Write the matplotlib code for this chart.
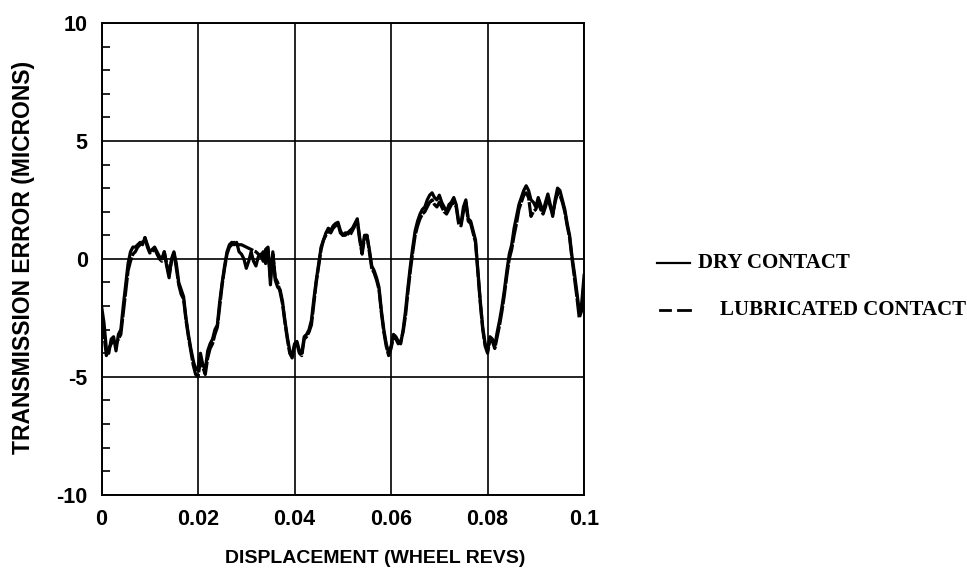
import matplotlib
matplotlib.use("Agg")
import matplotlib.pyplot as plt
from matplotlib.lines import Line2D
from matplotlib.ticker import MultipleLocator

# Displacement in wheel revolutions
displacement = [
    0.0000, 0.0005, 0.0010, 0.0015, 0.0020, 0.0025, 0.0030, 0.0035, 0.0040, 0.0045,
    0.0050, 0.0055, 0.0060, 0.0065, 0.0070, 0.0075, 0.0080, 0.0085, 0.0090, 0.0095,
    0.0100, 0.0105, 0.0110, 0.0115, 0.0120, 0.0125, 0.0130, 0.0135, 0.0140, 0.0145,
    0.0150, 0.0155, 0.0160, 0.0165, 0.0170, 0.0175, 0.0180, 0.0185, 0.0190, 0.0195,
    0.0200, 0.0205, 0.0210, 0.0215, 0.0220, 0.0225, 0.0230, 0.0235, 0.0240, 0.0245,
    0.0250, 0.0255, 0.0260, 0.0265, 0.0270, 0.0275, 0.0280, 0.0285, 0.0290, 0.0295,
    0.0300, 0.0305, 0.0310, 0.0315, 0.0320, 0.0325, 0.0330, 0.0335, 0.0340, 0.0345,
    0.0350, 0.0355, 0.0360, 0.0365, 0.0370, 0.0375, 0.0380, 0.0385, 0.0390, 0.0395,
    0.0400, 0.0405, 0.0410, 0.0415, 0.0420, 0.0425, 0.0430, 0.0435, 0.0440, 0.0445,
    0.0450, 0.0455, 0.0460, 0.0465, 0.0470, 0.0475, 0.0480, 0.0485, 0.0490, 0.0495,
    0.0500, 0.0505, 0.0510, 0.0515, 0.0520, 0.0525, 0.0530, 0.0535, 0.0540, 0.0545,
    0.0550, 0.0555, 0.0560, 0.0565, 0.0570, 0.0575, 0.0580, 0.0585, 0.0590, 0.0595,
    0.0600, 0.0605, 0.0610, 0.0615, 0.0620, 0.0625, 0.0630, 0.0635, 0.0640, 0.0645,
    0.0650, 0.0655, 0.0660, 0.0665, 0.0670, 0.0675, 0.0680, 0.0685, 0.0690, 0.0695,
    0.0700, 0.0705, 0.0710, 0.0715, 0.0720, 0.0725, 0.0730, 0.0735, 0.0740, 0.0745,
    0.0750, 0.0755, 0.0760, 0.0765, 0.0770, 0.0775, 0.0780, 0.0785, 0.0790, 0.0795,
    0.0800, 0.0805, 0.0810, 0.0815, 0.0820, 0.0825, 0.0830, 0.0835, 0.0840, 0.0845,
    0.0850, 0.0855, 0.0860, 0.0865, 0.0870, 0.0875, 0.0880, 0.0885, 0.0890, 0.0895,
    0.0900, 0.0905, 0.0910, 0.0915, 0.0920, 0.0925, 0.0930, 0.0935, 0.0940, 0.0945,
    0.0950, 0.0955, 0.0960, 0.0965, 0.0970, 0.0975, 0.0980, 0.0985, 0.0990, 0.0995,
    0.1000,
]

# Transmission error (microns), dry contact
dry_contact = [
    -2.0, -2.7, -3.8, -4.0, -3.4, -3.3, -3.9, -3.2, -3.0, -2.0,
    -1.1, -0.2, 0.3, 0.5, 0.5, 0.6, 0.7, 0.6, 0.9, 0.6,
    0.3, 0.4, 0.5, 0.3, 0.1, 0.0, 0.3, -0.3, -0.8, 0.0,
    0.3, -0.2, -1.0, -1.3, -1.6, -2.5, -3.2, -3.8, -4.3, -4.7,
    -4.6, -4.0, -4.5, -4.7, -3.9, -3.6, -3.4, -3.0, -2.8, -1.8,
    -1.0, -0.3, 0.3, 0.6, 0.7, 0.6, 0.7, 0.3, 0.2, 0.0,
    -0.4, -0.1, 0.3, -0.1, -0.3, 0.1, 0.2, -0.1, 0.4, 0.5,
    -1.1, 0.3, -0.9, -1.2, -1.3, -1.8, -2.6, -3.3, -3.9, -4.1,
    -3.6, -3.5, -3.9, -4.0, -3.3, -3.2, -3.0, -2.6, -1.7, -0.9,
    -0.2, 0.5, 0.8, 1.1, 1.3, 1.2, 1.4, 1.5, 1.55, 1.2,
    1.0, 1.1, 1.1, 1.2, 1.3, 1.5, 1.7, 0.9, 0.3, 1.0,
    1.0, 0.4, -0.3, -0.5, -0.8, -1.2, -2.2, -3.0, -3.6, -4.0,
    -3.7, -3.2, -3.3, -3.5, -3.6, -3.0, -2.2, -1.2, -0.3, 0.5,
    1.2, 1.6, 1.9, 2.1, 2.2, 2.5, 2.7, 2.8, 2.6, 2.5,
    2.7, 2.4, 2.2, 2.0, 2.3, 2.4, 2.6, 2.3, 1.6, 1.5,
    2.2, 2.5, 1.7, 1.6, 1.2, 0.8, -0.5, -1.8, -2.9, -3.6,
    -3.9, -3.3, -3.4, -3.7, -3.1, -2.6, -2.0, -1.3, -0.5, 0.2,
    0.6, 1.3, 1.8, 2.3, 2.6, 2.9, 3.1, 2.9, 2.5, 2.4,
    2.2, 2.6, 2.3, 2.0, 2.4, 2.75, 2.3, 1.8, 2.5, 3.0,
    2.9, 2.5, 2.1, 1.5, 1.0, 0.1, -0.6, -1.4, -2.2, -1.9,
    -0.7,
]

# Transmission error (microns), lubricated contact
lubricated_contact = [
    -2.6, -3.2, -4.1, -3.8, -3.6, -3.5, -3.6, -3.4, -3.2, -2.3,
    -1.4, -0.5, -0.1, 0.2, 0.3, 0.5, 0.6, 0.7, 0.9, 0.5,
    0.25, 0.3, 0.45, 0.2, 0.0, -0.1, 0.3, -0.2, -0.7, -0.1,
    0.25, -0.4, -1.1, -1.5, -1.7, -2.6, -3.3, -3.9, -4.5, -4.9,
    -5.0, -4.3, -4.6, -4.9, -4.2, -3.8, -3.6, -3.2, -2.9, -2.0,
    -1.1, -0.4, 0.2, 0.5, 0.6, 0.7, 0.6, 0.6, 0.6, 0.55,
    0.5, 0.45, 0.4, 0.35, 0.3, 0.2, 0.1, 0.3, -0.2, 0.4,
    -0.8, 0.2, -0.8, -1.0, -1.4, -1.9, -2.7, -3.4, -4.0, -4.2,
    -3.7, -3.6, -4.0, -4.1, -3.4, -3.3, -3.1, -2.8, -1.9, -1.0,
    -0.3, 0.4, 0.8, 1.0, 1.2, 1.1, 1.3, 1.4, 1.5, 1.1,
    1.0, 1.0, 1.1, 1.0, 1.2, 1.4, 1.6, 0.8, 0.2, 0.9,
    1.0, 0.3, -0.4, -0.6, -0.9, -1.3, -2.3, -3.1, -3.7, -4.1,
    -3.8, -3.3, -3.4, -3.6, -3.5, -3.1, -2.4, -1.4, -0.5, 0.3,
    1.0, 1.4, 1.7, 1.9, 2.0, 2.2, 2.4, 2.5, 2.3, 2.2,
    2.4, 2.2, 2.0, 1.9, 2.1, 2.3, 2.4, 2.2, 1.5, 1.4,
    2.0, 2.4, 1.6, 1.5, 1.1, 0.7, -0.6, -1.9, -3.0, -3.7,
    -4.0, -3.4, -3.5, -3.8, -3.3, -2.8, -2.2, -1.5, -0.7, 0.0,
    0.4, 1.0, 1.5, 2.1, 2.4, 2.7, 2.8, 2.6, 1.8, 2.0,
    2.1, 2.4, 2.1, 1.9, 2.2, 2.6, 2.2, 1.9, 2.4, 2.8,
    2.7, 2.4, 2.0, 1.4, 0.9, 0.0, -0.8, -1.6, -2.5, -2.2,
    -1.0,
]

x_ticks = [0, 0.02, 0.04, 0.06, 0.08, 0.1]
x_tick_labels = ["0", "0.02", "0.04", "0.06", "0.08", "0.1"]
y_ticks = [-10, -5, 0, 5, 10]
y_tick_labels = ["-10", "-5", "0", "5", "10"]
series_labels = ["DRY CONTACT", "LUBRICATED CONTACT"]

fig = plt.figure(figsize=(9.67, 5.74), dpi=100)
ax = fig.add_axes([0.105, 0.138, 0.499, 0.822])

ax.plot(displacement, dry_contact, color="black", lw=2.3, solid_joinstyle="round")
ax.plot(displacement, lubricated_contact, color="black", lw=2.3,
        linestyle=(0, (6, 0.5)), dash_joinstyle="round")

ax.set_xlim(0, 0.1)
ax.set_ylim(-10, 10)
ax.set_xticks(x_ticks)
ax.set_xticklabels(x_tick_labels)
ax.set_yticks(y_ticks)
ax.set_yticklabels(y_tick_labels)
ax.yaxis.set_minor_locator(MultipleLocator(1))

for lbl in ax.get_xticklabels() + ax.get_yticklabels():
    lbl.set_fontfamily("Liberation Sans")
    lbl.set_fontweight("bold")
    lbl.set_fontsize(15.5)

ax.tick_params(axis="both", which="major", length=0)
ax.tick_params(axis="x", which="major", pad=10)
ax.tick_params(axis="y", which="major", pad=10)
ax.tick_params(axis="y", which="minor", direction="in", length=6, width=1.2, left=True)

ax.grid(True, which="major", color="black", lw=1.2)
for s in ax.spines.values():
    s.set_linewidth(1.4)
    s.set_color("black")

ax.set_xlabel("DISPLACEMENT (WHEEL REVS)", family="Liberation Sans", weight="bold",
              size=14)
ax.set_ylabel("TRANSMISSION ERROR (MICRONS)", family="Liberation Sans", weight="bold",
              size=16.5)
ax.xaxis.set_label_coords(0.567, -0.118)
ax.yaxis.set_label_coords(-0.138, 0.504)

# Legend drawn beside the axes
row_dry = 1 - 263 / 574
row_lub = 1 - 310 / 574
fig.add_artist(Line2D([657 / 967, 690 / 967], [row_dry, row_dry],
                      transform=fig.transFigure, color="black", lw=1.6))
fig.add_artist(Line2D([660 / 967, 670 / 967], [row_lub, row_lub],
                      transform=fig.transFigure, color="black", lw=2.0))
fig.add_artist(Line2D([678 / 967, 690 / 967], [row_lub, row_lub],
                      transform=fig.transFigure, color="black", lw=2.0))
legend_font = dict(family="Liberation Serif", weight="bold", size=15, va="center")
fig.text(698 / 967, row_dry, series_labels[0], **legend_font)
fig.text(720 / 967, row_lub, series_labels[1], **legend_font)

fig.savefig("out.png", dpi=100)
